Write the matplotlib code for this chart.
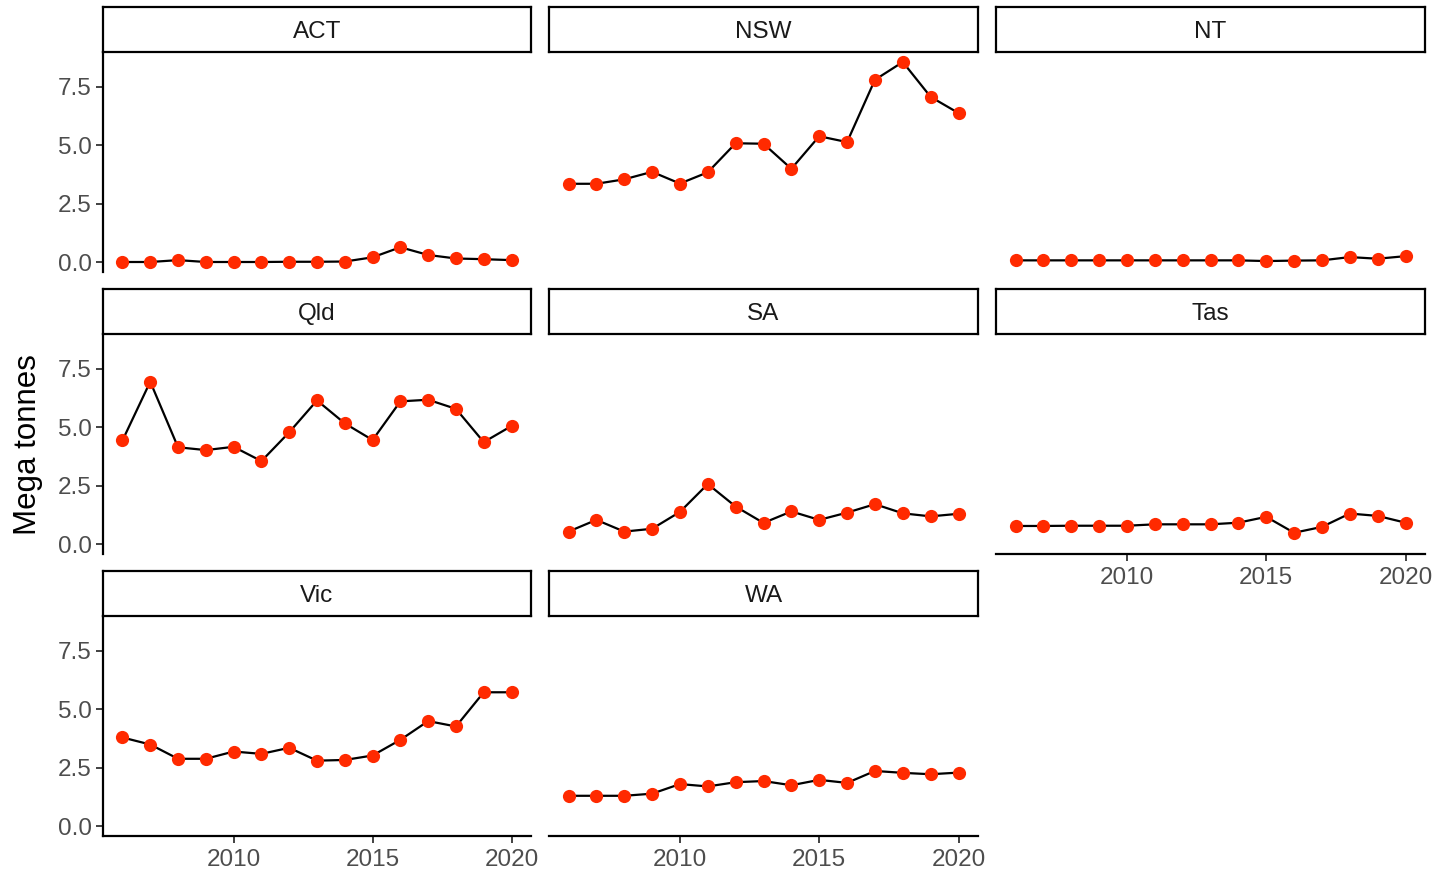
import matplotlib
matplotlib.use('Agg')
import matplotlib.pyplot as plt

years = list(range(2006, 2021))
states = ["ACT", "NSW", "NT", "Qld", "SA", "Tas", "Vic", "WA"]
act = [0.02, 0.02, 0.10, 0.02, 0.02, 0.02, 0.03, 0.03, 0.04, 0.22, 0.65, 0.32, 0.17, 0.14, 0.10]
nsw = [3.36, 3.36, 3.55, 3.87, 3.37, 3.85, 5.09, 5.07, 4.00, 5.39, 5.14, 7.80, 8.56, 7.07, 6.38]
nt = [0.09, 0.09, 0.09, 0.09, 0.09, 0.09, 0.09, 0.09, 0.09, 0.06, 0.08, 0.09, 0.23, 0.16, 0.27]
qld = [4.44, 6.95, 4.15, 4.03, 4.17, 3.56, 4.79, 6.15, 5.17, 4.46, 6.11, 6.18, 5.79, 4.37, 5.06]
sa = [0.55, 1.05, 0.55, 0.67, 1.39, 2.58, 1.62, 0.92, 1.41, 1.05, 1.36, 1.72, 1.33, 1.20, 1.31]
tas = [0.79, 0.79, 0.80, 0.80, 0.80, 0.86, 0.86, 0.86, 0.93, 1.18, 0.50, 0.75, 1.32, 1.22, 0.93]
vic = [3.80, 3.50, 2.89, 2.89, 3.20, 3.10, 3.36, 2.81, 2.84, 3.03, 3.70, 4.50, 4.27, 5.73, 5.73]
wa = [1.31, 1.31, 1.31, 1.40, 1.81, 1.71, 1.89, 1.94, 1.76, 1.99, 1.86, 2.37, 2.29, 2.23, 2.30]
series = [act, nsw, nt, qld, sa, tas, vic, wa]
y_ticks = [0.0, 2.5, 5.0, 7.5]
x_ticks = [2010, 2015, 2020]
y_label = "Mega tonnes"

plt.rcParams['font.family'] = ['Liberation Sans', 'DejaVu Sans']

W, H = 1435, 873
fig = plt.figure(figsize=(W / 100, H / 100), dpi=100)

col_x = [(103, 531), (549, 978), (996, 1425)]
row_y = [(52, 272), (334, 554), (616, 836)]
strip_h = 45

allv = [v for s in series for v in s]
vmin, vmax = min(allv), max(allv)
rng = vmax - vmin
ylim = (vmin - 0.05 * rng, vmax + 0.05 * rng)
xr = years[-1] - years[0]
xlim = (years[0] - 0.05 * xr, years[-1] + 0.05 * xr)

def fa(x0, y0, x1, y1):
    return [x0 / W, 1 - y1 / H, (x1 - x0) / W, (y1 - y0) / H]

for i, (name, vals) in enumerate(zip(states, series)):
    r, c = divmod(i, 3)
    x0, x1 = col_x[c]
    y0, y1 = row_y[r]
    ax = fig.add_axes(fa(x0, y0, x1, y1))
    ax.plot(years, vals, color='black', lw=1.6, zorder=2)
    ax.plot(years, vals, 'o', color='#FF2A00', markersize=9.5, markeredgewidth=0, zorder=3)
    ax.set_xlim(*xlim)
    ax.set_ylim(*ylim)
    ax.set_yticks(y_ticks)
    ax.set_yticklabels([f"{t:.1f}" for t in y_ticks])
    ax.set_xticks(x_ticks)
    ax.set_xticklabels([str(t) for t in x_ticks])
    for s in ['top', 'right']:
        ax.spines[s].set_visible(False)
    show_left = (c == 0)
    show_bottom = (r == 2) or (r == 1 and c == 2)
    ax.spines['left'].set_visible(show_left)
    ax.spines['bottom'].set_visible(show_bottom)
    for s in ['left', 'bottom']:
        ax.spines[s].set_linewidth(1.6)
    ax.tick_params(axis='both', colors='#333333', labelcolor='#4D4D4D',
                   labelsize=17.5, length=5, width=1.3, pad=3)
    ax.tick_params(axis='x', pad=4.5)
    ax.tick_params(axis='y', left=show_left, labelleft=show_left)
    ax.tick_params(axis='x', bottom=show_bottom, labelbottom=show_bottom)
    ax.patch.set_alpha(0)

    sax = fig.add_axes(fa(x0, y0 - strip_h, x1, y0))
    sax.set_xticks([])
    sax.set_yticks([])
    for s in sax.spines.values():
        s.set_linewidth(1.6)
        s.set_color('black')
    sax.text(0.5, 0.45, name, ha='center', va='center', fontsize=17.5,
             color='#1A1A1A', transform=sax.transAxes)

fig.text(28 / W, 1 - 445 / H, y_label, rotation=90, ha='center', va='center',
         fontsize=22.5, color='black')

fig.savefig('out.png', dpi=100)
